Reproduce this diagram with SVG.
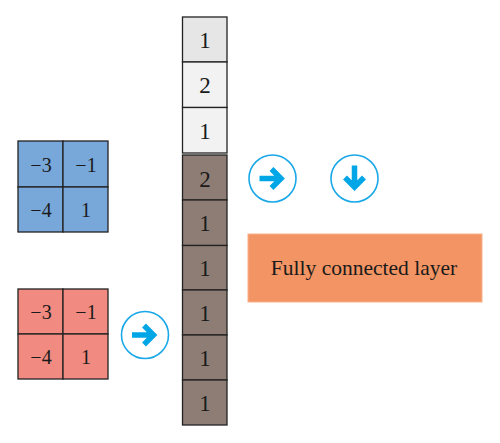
<svg xmlns="http://www.w3.org/2000/svg" width="500" height="443" viewBox="0 0 500 443">
<defs>
<style>
text{font-family:"Liberation Serif","Times New Roman",serif;fill:#1a1a1a;text-anchor:middle}
.g{font-size:20px}
.c{font-size:23px}
.cell{stroke:#222;stroke-width:1.3}
.blue{fill:#78a7da}
.red{fill:#f18a80}
.brown{fill:#8d7d75}
.light{fill:#f2f2f2}
.light2{fill:#e6e6e6}
.circ{fill:#fff;stroke:#1aa8e8;stroke-width:1.6}
.arr{fill:none;stroke:#00a6e6;stroke-width:5.5;stroke-linejoin:miter;stroke-linecap:butt}
</style>
<g id="arrowR">
<circle class="circ" r="23.5"/>
<path class="arr" d="M-13,0H8M-1,-9.5L8.5,0L-1,9.5"/>
</g>
</defs>
<rect width="500" height="443" fill="#fff"/>
<g id="blue-grid">
<rect class="cell blue" x="18" y="141" width="45" height="46"/>
<rect class="cell blue" x="63" y="141" width="45" height="46"/>
<rect class="cell blue" x="18" y="187" width="45" height="45"/>
<rect class="cell blue" x="63" y="187" width="45" height="45"/>
<text class="g" x="41" y="171.5">−3</text>
<text class="g" x="86" y="171.5">−1</text>
<text class="g" x="41" y="217">−4</text>
<text class="g" x="86" y="217">1</text>
</g>
<g id="red-grid">
<rect class="cell red" x="18" y="289" width="45" height="45"/>
<rect class="cell red" x="63" y="289" width="45" height="45"/>
<rect class="cell red" x="18" y="334" width="45" height="45"/>
<rect class="cell red" x="63" y="334" width="45" height="45"/>
<text class="g" x="41" y="318.5">−3</text>
<text class="g" x="86" y="318.5">−1</text>
<text class="g" x="41" y="364">−4</text>
<text class="g" x="86" y="364">1</text>
</g>
<g id="column-top">
<rect class="cell light2" x="182.5" y="17" width="44.5" height="45"/>
<rect class="cell light" x="182.5" y="62" width="44.5" height="45.5"/>
<rect class="cell light" x="182.5" y="107.5" width="44.5" height="45.5"/>
<text class="c" x="205" y="48">1</text>
<text class="c" x="205" y="93">2</text>
<text class="c" x="205" y="138.5">1</text>
</g>
<g id="column-bottom">
<rect class="cell brown" x="182.5" y="155" width="44.5" height="45"/>
<rect class="cell brown" x="182.5" y="200" width="44.5" height="45.5"/>
<rect class="cell brown" x="182.5" y="245.5" width="44.5" height="44.5"/>
<rect class="cell brown" x="182.5" y="290" width="44.5" height="45"/>
<rect class="cell brown" x="182.5" y="335" width="44.5" height="45"/>
<rect class="cell brown" x="182.5" y="380" width="44.5" height="45"/>
<text class="c" x="205" y="186.5">2</text>
<text class="c" x="205" y="231">1</text>
<text class="c" x="205" y="276">1</text>
<text class="c" x="205" y="321">1</text>
<text class="c" x="205" y="366">1</text>
<text class="c" x="205" y="411">1</text>
</g>
<g id="fc-layer">
<rect x="248" y="234" width="234" height="68" fill="#f29463" stroke="#f7b08a" stroke-width="1"/>
<text x="364" y="275" style="font-size:21.5px">Fully connected layer</text>
</g>
<g id="connectors">
<use href="#arrowR" x="145" y="335"/>
<use href="#arrowR" x="272.5" y="178.5"/>
<use href="#arrowR" transform="translate(354.5,178.5) rotate(90)"/>
</g>
</svg>
